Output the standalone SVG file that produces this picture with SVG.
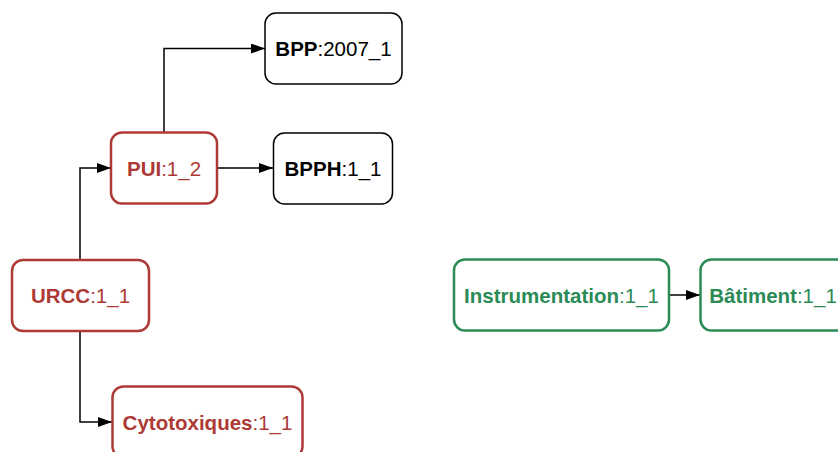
<svg xmlns="http://www.w3.org/2000/svg" width="838" height="452" viewBox="0 0 838 452">
<defs>
<marker id="arr" markerWidth="14" markerHeight="10" refX="14" refY="5" orient="auto" markerUnits="userSpaceOnUse">
<path d="M0,0 L14,5 L0,10 Z" fill="#000"/>
</marker>
<style>
text{font-family:"Liberation Sans",Arial,sans-serif;font-size:20.5px;text-anchor:middle}
.b{font-weight:bold}
.red rect{fill:#fff;stroke:#ad3a35;stroke-width:2.5}
.red text{fill:#ad3a35}
.grn rect{fill:#fff;stroke:#2b8b55;stroke-width:2.5}
.grn text{fill:#2b8b55}
.blk rect{fill:#fff;stroke:#000;stroke-width:1.5}
.blk text{fill:#000}
.edge{fill:none;stroke:#000;stroke-width:1.5;marker-end:url(#arr)}
</style>
</defs>
<rect width="838" height="452" fill="#fff"/>
<g id="connectors">
<path class="edge" d="M164,132 V48.5 H265"/>
<path class="edge" d="M217,168 H273"/>
<path class="edge" d="M80,259 V168 H111"/>
<path class="edge" d="M80,332 V422 H112"/>
<path class="edge" d="M669,295 H700"/>
</g>
<g id="BPP" class="blk">
<rect x="265" y="13" width="137" height="71" rx="11"/>
<text x="333.5" y="56"><tspan class="b">BPP</tspan>:2007_1</text>
</g>
<g id="BPPH" class="blk">
<rect x="273.5" y="133" width="119" height="71" rx="11"/>
<text x="333" y="176"><tspan class="b">BPPH</tspan>:1_1</text>
</g>
<g id="PUI" class="red">
<rect x="111" y="132.5" width="106" height="71" rx="11"/>
<text x="164" y="176"><tspan class="b">PUI</tspan>:1_2</text>
</g>
<g id="URCC" class="red">
<rect x="12" y="260" width="137" height="71" rx="11"/>
<text x="80.5" y="303"><tspan class="b">URCC</tspan>:1_1</text>
</g>
<g id="Cytotoxiques" class="red">
<rect x="112.5" y="386.5" width="190" height="71" rx="11"/>
<text x="207.5" y="429.5"><tspan class="b">Cytotoxiques</tspan>:1_1</text>
</g>
<g id="Instrumentation" class="grn">
<rect x="454" y="259.5" width="215" height="71" rx="11"/>
<text x="561.5" y="303"><tspan class="b">Instrumentation</tspan>:1_1</text>
</g>
<g id="Batiment" class="grn">
<rect x="700.5" y="259.5" width="149" height="71" rx="11"/>
<text x="773" y="303"><tspan class="b">Bâtiment</tspan>:1_1</text>
</g>
</svg>
